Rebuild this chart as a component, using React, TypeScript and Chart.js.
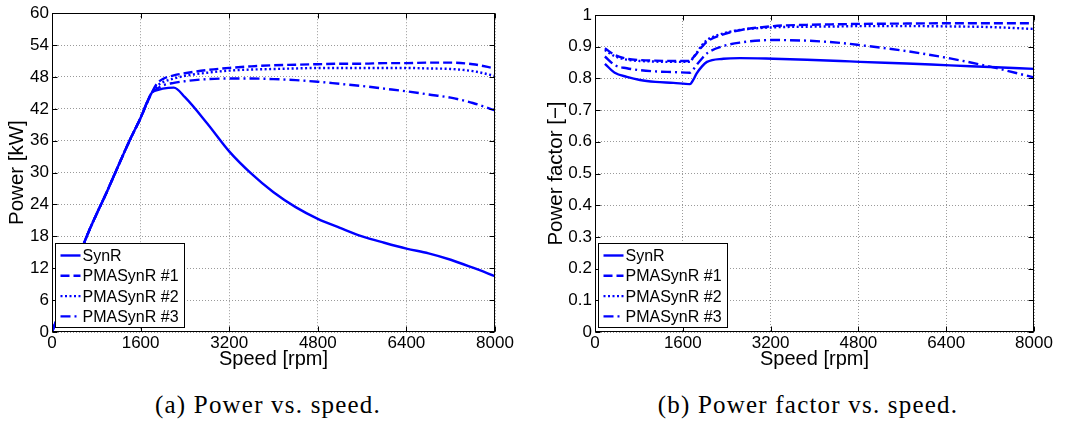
import React, { useEffect, useRef } from "react";
import { Chart, registerables } from "chart.js";

Chart.register(...registerables);

// ---------- data ----------
const seriesLabels = ["SynR", "PMASynR #1", "PMASynR #2", "PMASynR #3"];
const seriesDashes: number[][] = [[], [9, 4], [2, 2.5], [10, 4, 2, 4]];
const seriesColor = "#0000ff";

const speedTicks = [0, 1600, 3200, 4800, 6400, 8000];
const powerTicks = [0, 6, 12, 18, 24, 30, 36, 42, 48, 54, 60];
const pfTicks = [0, 0.1, 0.2, 0.3, 0.4, 0.5, 0.6, 0.7, 0.8, 0.9, 1];

// (a) Power vs. speed
const powerSpeed = [0, 130, 600, 1000, 1400, 1600, 1800, 1900, 2000, 2200, 2400, 2800, 3200, 3600, 4000, 4400, 4800, 5200, 5600, 6000, 6400, 6800, 7200, 7600, 8000];
const powerSynR = [0, 3.6, 17.3, 26.6, 36.0, 40.3, 45.0, 45.5, 45.8, 46.0, 44.2, 39.3, 34.0, 29.8, 26.3, 23.5, 21.3, 19.6, 18.0, 16.8, 15.7, 14.8, 13.6, 12.1, 10.5];
const powerPMA1 = [0, 3.6, 17.3, 26.6, 36.0, 40.3, 45.0, 46.8, 47.6, 48.3, 48.7, 49.3, 49.7, 50.0, 50.2, 50.3, 50.4, 50.5, 50.5, 50.6, 50.6, 50.7, 50.7, 50.4, 49.6];
const powerPMA2 = [0, 3.6, 17.3, 26.6, 36.0, 40.3, 45.0, 46.3, 47.0, 47.7, 48.2, 48.8, 49.2, 49.4, 49.5, 49.6, 49.7, 49.7, 49.7, 49.7, 49.7, 49.6, 49.5, 49.1, 48.2];
const powerPMA3 = [0, 3.6, 17.3, 26.6, 36.0, 40.3, 45.0, 45.8, 46.4, 46.9, 47.2, 47.6, 47.7, 47.7, 47.6, 47.4, 47.1, 46.7, 46.3, 45.8, 45.3, 44.7, 44.1, 43.1, 41.7];

// (b) Power factor vs. speed
const pfSpeed = [180, 360, 580, 820, 1100, 1430, 1730, 1790, 1850, 1950, 2040, 2340, 2640, 3250, 3860, 4470, 4830, 5680, 6470, 7200, 8000];
const pfSynR = [0.846, 0.818, 0.805, 0.795, 0.789, 0.786, 0.782, 0.795, 0.815, 0.838, 0.852, 0.862, 0.864, 0.862, 0.859, 0.855, 0.852, 0.847, 0.841, 0.836, 0.830];
const pfPMA1 = [0.895, 0.874, 0.862, 0.858, 0.856, 0.855, 0.855, 0.866, 0.878, 0.900, 0.916, 0.939, 0.952, 0.965, 0.969, 0.971, 0.972, 0.973, 0.974, 0.974, 0.974];
const pfPMA2 = [0.890, 0.870, 0.859, 0.855, 0.853, 0.852, 0.852, 0.866, 0.880, 0.905, 0.921, 0.942, 0.953, 0.961, 0.963, 0.964, 0.965, 0.965, 0.964, 0.962, 0.956];
const pfPMA3 = [0.869, 0.842, 0.832, 0.826, 0.822, 0.820, 0.818, 0.828, 0.842, 0.863, 0.879, 0.902, 0.913, 0.921, 0.919, 0.912, 0.905, 0.886, 0.863, 0.837, 0.803];

const FONT = "'Liberation Sans', Arial, Helvetica, sans-serif";

// ---------- plugin: MATLAB-like frame, inward ticks, in-axes legend ----------
const matlabAxes = {
  id: "matlabAxes",
  afterDatasetsDraw(chart: any) {
    const { ctx, chartArea: a, scales } = chart;
    ctx.save();
    ctx.strokeStyle = "#000";
    ctx.lineWidth = 1;
    ctx.setLineDash([]);
    const L = Math.round(a.left) + 0.5;
    const R = Math.round(a.right) - 0.5;
    const T = Math.round(a.top) + 0.5;
    const B = Math.round(a.bottom) - 0.5;
    const tl = 5;
    ctx.beginPath();
    for (const t of scales.x.ticks) {
      const px = Math.round(scales.x.getPixelForValue(t.value)) + 0.5;
      ctx.moveTo(px, B); ctx.lineTo(px, B - tl);
      ctx.moveTo(px, T); ctx.lineTo(px, T + tl);
    }
    for (const t of scales.y.ticks) {
      const py = Math.round(scales.y.getPixelForValue(t.value)) + 0.5;
      ctx.moveTo(L, py); ctx.lineTo(L + tl, py);
      ctx.moveTo(R, py); ctx.lineTo(R - tl, py);
    }
    ctx.stroke();
    ctx.strokeRect(L, T, R - L, B - T);

    // legend
    const bw = 129, bh = 84;
    const bx = L + 3, by = B - 4 - bh;
    ctx.fillStyle = "#fff";
    ctx.fillRect(bx, by, bw, bh);
    ctx.strokeRect(bx, by, bw, bh);
    ctx.font = `16px ${FONT}`;
    ctx.textBaseline = "middle";
    ctx.textAlign = "left";
    chart.data.datasets.forEach((ds: any, i: number) => {
      const cy = by + 12 + i * 20.3;
      ctx.save();
      ctx.strokeStyle = ds.borderColor;
      ctx.lineWidth = ds.borderWidth;
      ctx.setLineDash(ds.borderDash || []);
      ctx.beginPath();
      ctx.moveTo(bx + 5, cy);
      ctx.lineTo(bx + 25, cy);
      ctx.stroke();
      ctx.restore();
      ctx.fillStyle = "#000";
      ctx.fillText(ds.label, bx + 27, cy + 1);
    });
    ctx.restore();
  },
};

function makeConfig(opts: {
  xs: number[];
  ys: number[][];
  yTicks: number[];
  yMin: number;
  yMax: number;
  yTitle: string;
  yFmt: (v: number) => string;
  yAxisWidth: number;
  yTitlePad: number;
  padding: { left: number; right: number; top: number; bottom: number };
}) {
  return {
    type: "line" as const,
    data: {
      datasets: opts.ys.map((arr, i) => ({
        label: seriesLabels[i],
        data: arr.map((y, k) => ({ x: opts.xs[k], y })),
        borderColor: seriesColor,
        backgroundColor: seriesColor,
        borderWidth: 2.4,
        borderDash: seriesDashes[i],
        pointRadius: 0,
        fill: false,
        cubicInterpolationMode: "monotone" as const,
      })),
    },
    options: {
      animation: false as const,
      responsive: false,
      devicePixelRatio: 1,
      layout: { padding: opts.padding },
      plugins: { legend: { display: false }, tooltip: { enabled: false } },
      scales: {
        x: {
          type: "linear" as const,
          min: 0,
          max: 8000,
          afterBuildTicks: (s: any) => {
            s.ticks = speedTicks.map((v) => ({ value: v }));
          },
          afterFit: (s: any) => {
            s.height = 40;
          },
          ticks: {
            autoSkip: false,
            maxRotation: 0,
            padding: 1,
            color: "#000",
            font: { family: FONT, size: 17 },
            callback: (v: any) => String(v),
          },
          grid: { color: "#9a9a9a", lineWidth: 1, drawTicks: false },
          border: { display: false, dash: [1, 2] },
          title: {
            display: true,
            text: "Speed [rpm]",
            color: "#000",
            font: { family: FONT, size: 20 },
            padding: { top: 0, bottom: 1 },
          },
        },
        y: {
          type: "linear" as const,
          min: opts.yMin,
          max: opts.yMax,
          afterBuildTicks: (s: any) => {
            s.ticks = opts.yTicks.map((v) => ({ value: v }));
          },
          afterFit: (s: any) => {
            s.width = opts.yAxisWidth;
          },
          ticks: {
            autoSkip: false,
            padding: 3,
            color: "#000",
            font: { family: FONT, size: 17 },
            callback: (v: any) => opts.yFmt(Number(v)),
          },
          grid: { color: "#9a9a9a", lineWidth: 1, drawTicks: false },
          border: { display: false, dash: [1, 2] },
          title: {
            display: true,
            text: opts.yTitle,
            color: "#000",
            font: { family: FONT, size: 20.5 },
            padding: { top: opts.yTitlePad, bottom: 0 },
          },
        },
      },
    },
    plugins: [matlabAxes],
  };
}

function ChartCanvas({ config, left, width, height }: { config: any; left: number; width: number; height: number }) {
  const ref = useRef<HTMLCanvasElement>(null);
  useEffect(() => {
    const chart = new Chart(ref.current as HTMLCanvasElement, config);
    return () => chart.destroy();
  }, []);
  return (
    <canvas
      ref={ref}
      width={width}
      height={height}
      style={{ position: "absolute", left, top: 0, width, height, display: "block" }}
    />
  );
}

const captionStyle: React.CSSProperties = {
  position: "absolute",
  top: 392,
  fontFamily: "'Liberation Serif', 'Times New Roman', serif",
  fontSize: 25,
  lineHeight: "26px",
  letterSpacing: "1.2px",
  color: "#000",
  textAlign: "center",
  whiteSpace: "nowrap",
};

export default function App() {
  const powerCfg = makeConfig({
    xs: powerSpeed,
    ys: [powerSynR, powerPMA1, powerPMA2, powerPMA3],
    yTicks: powerTicks,
    yMin: 0,
    yMax: 60,
    yTitle: "Power [kW]",
    yFmt: (v) => String(v),
    yAxisWidth: 52,
    yTitlePad: 5,
    padding: { left: 0, right: 40, top: 12, bottom: 0 },
  });
  const pfCfg = makeConfig({
    xs: pfSpeed,
    ys: [pfSynR, pfPMA1, pfPMA2, pfPMA3],
    yTicks: pfTicks,
    yMin: 0,
    yMax: 1,
    yTitle: "Power factor [\u2212]",
    yFmt: (v) => String(Number(v.toFixed(1))),
    yAxisWidth: 60,
    yTitlePad: 9,
    padding: { left: 0, right: 41, top: 15, bottom: 0 },
  });
  return (
    <div style={{ position: "absolute", left: 0, top: 0, width: 1075, height: 421, background: "#fff", overflow: "hidden" }}>
      <ChartCanvas config={powerCfg} left={0} width={535} height={372} />
      <ChartCanvas config={pfCfg} left={535} width={540} height={372} />
      <div style={{ ...captionStyle, left: 0, width: 536 }}>(a) Power vs. speed.</div>
      <div style={{ ...captionStyle, left: 540, width: 536 }}>(b) Power factor vs. speed.</div>
    </div>
  );
}
